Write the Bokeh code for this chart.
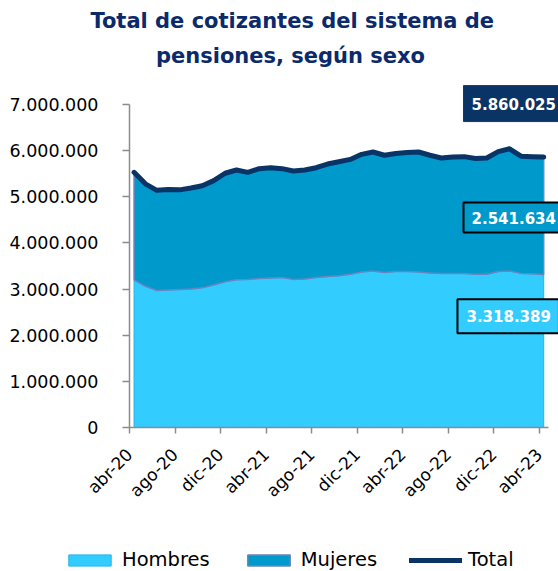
import math
from bokeh.plotting import figure
from bokeh.models import Range1d, FixedTicker, Label, Legend, LegendItem, LinearAxis
from bokeh.embed import file_html
from bokeh.resources import INLINE

meses = ["abr-20", "may-20", "jun-20", "jul-20", "ago-20", "sep-20", "oct-20", "nov-20", "dic-20",
         "ene-21", "feb-21", "mar-21", "abr-21", "may-21", "jun-21", "jul-21", "ago-21", "sep-21",
         "oct-21", "nov-21", "dic-21", "ene-22", "feb-22", "mar-22", "abr-22", "may-22", "jun-22",
         "jul-22", "ago-22", "sep-22", "oct-22", "nov-22", "dic-22", "ene-23", "feb-23", "mar-23",
         "abr-23"]

hombres = [3200000, 3060000, 2970000, 2980000, 2990000, 3000000, 3030000, 3090000, 3160000,
           3200000, 3210000, 3230000, 3240000, 3250000, 3210000, 3220000, 3250000, 3270000,
           3290000, 3320000, 3370000, 3390000, 3360000, 3380000, 3380000, 3370000, 3350000,
           3340000, 3340000, 3340000, 3320000, 3320000, 3380000, 3390000, 3340000, 3330000,
           3318389]

mujeres = [2330000, 2220000, 2170000, 2180000, 2160000, 2190000, 2210000, 2260000, 2350000,
           2380000, 2320000, 2380000, 2390000, 2360000, 2350000, 2360000, 2380000, 2440000,
           2470000, 2490000, 2550000, 2580000, 2540000, 2560000, 2580000, 2600000, 2550000,
           2500000, 2520000, 2530000, 2510000, 2520000, 2600000, 2650000, 2540000, 2540000,
           2541634]

total = [5530000, 5280000, 5140000, 5160000, 5150000, 5190000, 5240000, 5350000, 5510000,
         5580000, 5530000, 5610000, 5630000, 5610000, 5560000, 5580000, 5630000, 5710000,
         5760000, 5810000, 5920000, 5970000, 5900000, 5940000, 5960000, 5970000, 5900000,
         5840000, 5860000, 5870000, 5830000, 5840000, 5980000, 6040000, 5880000, 5870000,
         5860025]

y_ticks = [0, 1000000, 2000000, 3000000, 4000000, 5000000, 6000000, 7000000]
y_tick_labels = ["0", "1.000.000", "2.000.000", "3.000.000", "4.000.000", "5.000.000",
                 "6.000.000", "7.000.000"]
x_label_idx = [0, 4, 8, 12, 16, 20, 24, 28, 32, 36]

titulo = ["Total de cotizantes del sistema de", "pensiones, según sexo"]


def fmt(v):
    return f"{v:,.0f}".replace(",", ".")


n = len(meses)
xs = list(range(n))
tope = [h + m for h, m in zip(hombres, mujeres)]

C_H = "#33CCFF"
C_M = "#0099CC"
C_T = "#0A3366"
C_TITLE = "#0B2A6B"
FONT = "DejaVu Sans"
AX = "#8C8C8C"

p = figure(width=558, height=571, x_range=Range1d(-11.736, 37.298), y_range=Range1d(-3.121e6, 9.254e6),
           output_backend="svg", toolbar_location=None,
           x_axis_location=None, y_axis_location=None,
           min_border_left=0, min_border_right=0, min_border_top=0, min_border_bottom=0,
           outline_line_color=None, background_fill_color="white", border_fill_color="white")
p.grid.visible = False

r_h = p.patch(xs + xs[::-1], hombres + [0] * n, fill_color=C_H, line_color="#22B4EC", line_width=1)
r_m = p.patch(xs + xs[::-1], tope + hombres[::-1], fill_color=C_M, line_color="#6A84BE", line_width=1.5)
r_t = p.line(xs, total, line_color=C_T, line_width=5, line_join="round", line_cap="round")

ya = LinearAxis(fixed_location=-0.4)
ya.ticker = FixedTicker(ticks=y_ticks)
ya.major_label_overrides = {t: l for t, l in zip(y_ticks, y_tick_labels)}
ya.bounds = (0, 7e6)
ya.axis_line_color = AX
ya.axis_line_width = 1.5
ya.major_tick_line_color = AX
ya.major_tick_line_width = 1.5
ya.major_tick_out = 7
ya.major_tick_in = 0
ya.minor_tick_line_color = None
ya.major_label_standoff = 24
ya.major_label_text_font = FONT
ya.major_label_text_font_size = "17.5px"
ya.major_label_text_color = "#000000"
p.add_layout(ya, "left")

xt = [round(i - 0.4, 1) for i in x_label_idx]
xa = LinearAxis(fixed_location=0)
xa.ticker = FixedTicker(ticks=xt)
xa.major_label_overrides = {t: meses[i] for t, i in zip(xt, x_label_idx)}
xa.bounds = (-0.4, 36.4)
xa.axis_line_color = AX
xa.axis_line_width = 1.5
xa.major_tick_line_color = AX
xa.major_tick_line_width = 1.5
xa.major_tick_out = 6
xa.major_tick_in = 0
xa.minor_tick_line_color = None
xa.major_label_orientation = math.pi / 4
xa.major_label_standoff = 18
xa.major_label_text_font = FONT
xa.major_label_text_font_size = "17px"
xa.major_label_text_color = "#000000"
p.add_layout(xa, "below")

# Title
p.add_layout(Label(x=13.9, y=8.82e6, text=titulo[0], text_align="center", text_baseline="middle",
                   text_font=FONT, text_font_style="bold", text_font_size="21px", text_color=C_TITLE))
p.add_layout(Label(x=13.75, y=8.06e6, text=titulo[1], text_align="center", text_baseline="middle",
                   text_font=FONT, text_font_style="bold", text_font_size="21px", text_color=C_TITLE))

# Value boxes
pad_t = dict(top=12, bottom=12, left=8, right=8)
pad_m = dict(top=9, bottom=9, left=8, right=8)
pad_h = dict(top=11, bottom=11, left=9, right=8)
p.add_layout(Label(x=28.95, y=7.02e6, text=fmt(total[-1]), text_align="left", text_baseline="middle",
                   text_font=FONT, text_font_style="bold", text_font_size="15px", text_color="white",
                   background_fill_color=C_T, border_line_color="#333333", border_line_width=1,
                   padding=pad_t))
p.add_layout(Label(x=28.95, y=4.55e6, text=fmt(mujeres[-1]), text_align="left", text_baseline="middle",
                   text_font=FONT, text_font_style="bold", text_font_size="15px", text_color="white",
                   background_fill_color=C_M, border_line_color="black", border_line_width=2,
                   padding=pad_m))
p.add_layout(Label(x=28.42, y=2.41e6, text=fmt(hombres[-1]), text_align="left", text_baseline="middle",
                   text_font=FONT, text_font_style="bold", text_font_size="15px", text_color="white",
                   background_fill_color=C_H, border_line_color="black", border_line_width=2,
                   padding=pad_h))

legend = Legend(items=[LegendItem(label="Hombres", renderers=[r_h]),
                       LegendItem(label="Mujeres", renderers=[r_m]),
                       LegendItem(label="Total", renderers=[r_t])],
                location=(63, 0), orientation="horizontal",
                glyph_width=53, glyph_height=14, label_standoff=6, spacing=32,
                padding=0, margin=0, border_line_color=None, background_fill_alpha=0,
                label_text_font=FONT, label_text_font_size="19.5px", label_text_color="#000000")
p.add_layout(legend)

open("out.html", "w").write(file_html(p, INLINE))
